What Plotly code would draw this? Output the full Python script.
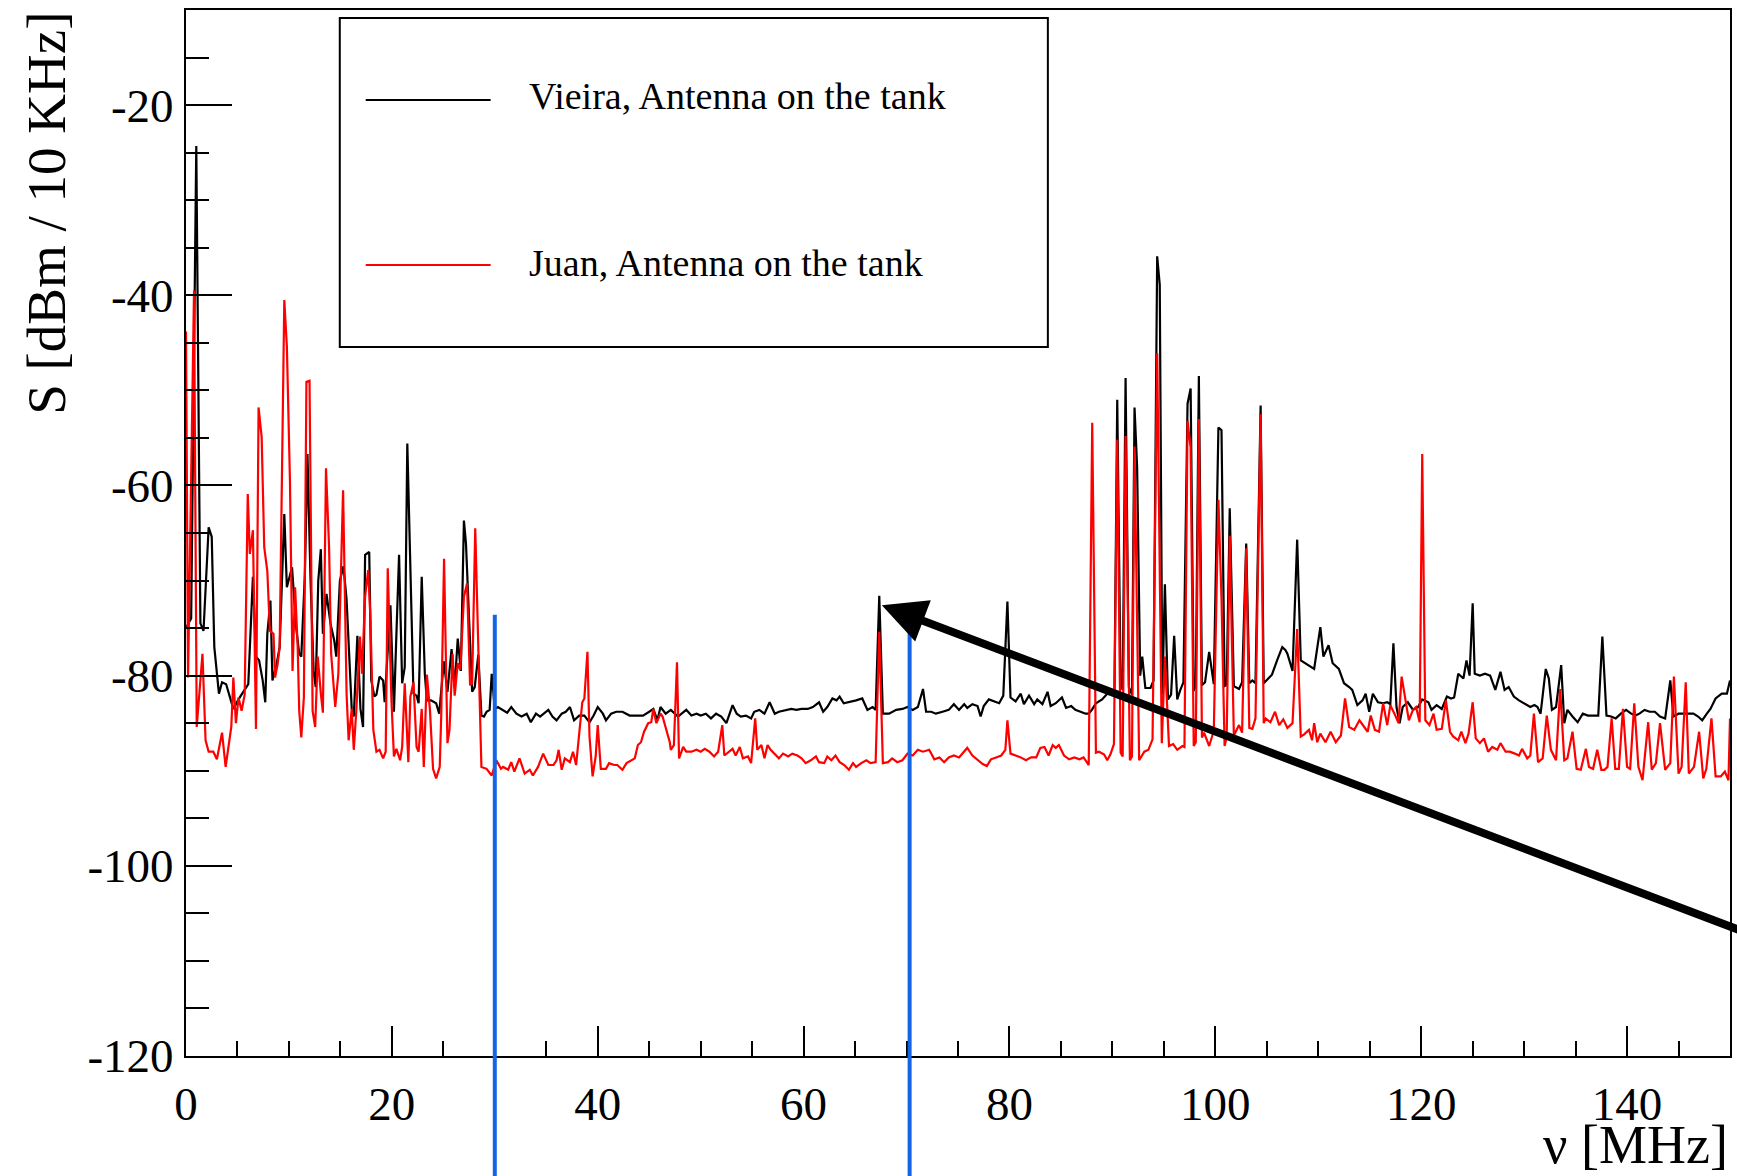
import plotly.graph_objects as go

# ---------------- data ----------------
# Vieira, Antenna on the tank (black)
vieira_freq = [
    0.0, 0.5, 1.0, 1.4, 1.7, 2.2, 2.5, 2.75, 3.2, 3.5,
    3.9, 4.3, 4.6, 5.1, 5.6, 6.05, 6.5, 6.8, 7.1, 7.45,
    7.7, 7.9, 8.2, 8.4, 8.8, 9.1, 9.55, 9.8, 10.3, 10.7,
    11.0, 11.2, 11.55, 11.8, 12.1, 12.4, 12.6, 12.85, 13.1, 13.3,
    13.65, 14.05, 14.4, 14.6, 14.95, 15.3, 15.6, 15.9, 16.1, 16.3,
    16.65, 16.95, 17.2, 17.4, 17.8, 18.0, 18.3, 18.5, 18.8, 19.15,
    19.3, 19.86, 20.2, 20.4, 20.7, 21.0, 21.25, 21.5, 21.8, 22.1,
    22.4, 22.6, 22.9, 23.2, 23.4, 23.8, 24.3, 24.6, 25.05, 25.4,
    25.8, 26.1, 26.4, 26.7, 27.0, 27.2, 27.6, 27.8, 28.05, 28.4,
    28.7, 28.95, 29.2, 29.5, 29.7, 30.0, 30.3, 30.8, 31.2, 31.6,
    32.1, 32.6, 33.1, 33.5, 34.0, 34.4, 34.7, 35.2, 35.6, 36.0,
    36.5, 36.9, 37.3, 37.7, 38.2, 38.7, 39.2, 39.6, 40.0, 40.5,
    40.8, 41.3, 41.8, 42.4, 43.1, 43.7, 44.4, 45.0, 45.4, 45.8,
    46.1, 46.6, 47.1, 47.8, 48.3, 48.6, 49.1, 49.6, 50.0, 50.5,
    51.0, 51.5, 52.0, 52.5, 53.1, 53.5, 53.9, 54.4, 54.9, 55.2,
    55.7, 56.2, 56.7, 57.2, 57.6, 58.3, 58.8, 59.3, 59.8, 60.4,
    60.9, 61.5, 61.9, 62.3, 62.8, 63.2, 63.5, 63.9, 64.4, 65.1,
    65.7, 66.2, 66.7, 67.0, 67.35, 67.7, 68.3, 69.0, 69.6, 70.1,
    70.6, 71.1, 71.6, 71.9, 72.4, 72.85, 73.5, 74.1, 74.6, 75.1,
    75.6, 75.9, 76.4, 76.9, 77.2, 77.5, 78.0, 78.5, 79.0, 79.4,
    79.8, 80.1, 80.6, 81.1, 81.4, 81.9, 82.4, 82.7, 83.2, 83.7,
    84.0, 84.5, 85.1, 85.5, 86.0, 86.4, 86.9, 87.4, 87.7, 88.0,
    88.4, 89.0, 89.5, 90.0, 90.2, 90.47, 90.8, 91.0, 91.28, 91.6,
    91.9, 92.15, 92.4, 92.7, 92.9, 93.2, 93.7, 94.0, 94.35, 94.6,
    94.85, 95.1, 95.4, 95.7, 96.0, 96.3, 96.6, 96.9, 97.3, 97.6,
    97.9, 98.1, 98.4, 98.7, 99.0, 99.4, 99.85, 100.3, 100.6, 100.9,
    101.1, 101.4, 101.8, 102.3, 102.6, 103.0, 103.3, 103.6, 103.9, 104.4,
    104.7, 104.9, 105.5, 106.0, 106.5, 106.8, 107.0, 107.5, 107.95, 108.3,
    108.6, 109.1, 109.6, 110.2, 110.5, 111.0, 111.4, 112.0, 112.5, 113.0,
    113.3, 113.8, 114.3, 114.6, 114.95, 115.3, 115.8, 116.3, 116.7, 117.0,
    117.3, 117.6, 117.9, 118.2, 118.7, 119.2, 119.7, 120.1, 120.7, 121.0,
    121.5, 122.0, 122.5, 122.9, 123.2, 123.6, 124.1, 124.4, 124.7, 125.0,
    125.2, 125.7, 126.2, 126.7, 127.2, 127.7, 128.1, 128.5, 129.0, 129.5,
    130.0, 130.6, 131.0, 131.3, 131.6, 132.1, 132.4, 132.7, 133.1, 133.6,
    133.9, 134.2, 134.7, 135.2, 135.7, 136.2, 136.7, 137.2, 137.6, 138.0,
    138.45, 138.9, 139.4, 139.9, 140.4, 140.8, 141.2, 141.7, 142.2, 142.7,
    143.2, 143.7, 144.2, 144.5, 145.0, 145.5, 146.0, 146.45, 146.9, 147.3,
    147.75, 148.1, 148.6, 149.2, 149.7, 150.0,
]
vieira_level = [
    -75.0, -74.0, -24.3, -74.5, -75.3, -64.4, -65.4, -77.0, -81.9, -80.7,
    -80.9, -82.3, -83.5, -82.5, -81.6, -80.9, -69.6, -78.0, -78.4, -80.5,
    -82.8, -75.6, -72.1, -80.5, -78.8, -77.0, -63.0, -70.7, -68.6, -74.9,
    -77.7, -78.0, -69.3, -56.7, -70.0, -79.5, -81.2, -70.0, -66.7, -75.6,
    -71.4, -74.6, -76.3, -78.0, -70.0, -68.5, -72.0, -80.0, -83.5, -84.3,
    -75.8, -83.5, -85.4, -67.3, -67.0, -80.5, -82.2, -82.0, -80.1, -80.5,
    -82.8, -72.6, -83.8, -77.0, -67.3, -80.8, -79.1, -55.6, -70.0, -81.9,
    -82.1, -82.9, -69.6, -79.8, -82.6, -82.6, -82.9, -84.0, -78.5, -81.7,
    -77.2, -81.2, -76.1, -79.5, -63.7, -66.1, -76.6, -81.7, -81.2, -77.8,
    -84.2, -84.3, -83.8, -83.6, -79.8, -83.5, -83.3, -83.6, -83.9, -83.3,
    -84.0, -84.3, -84.0, -84.9, -84.0, -84.3, -84.0, -83.6, -84.3, -84.7,
    -84.0, -83.8, -83.3, -84.7, -84.2, -84.2, -84.9, -84.2, -83.3, -84.0,
    -84.7, -84.0, -83.8, -83.8, -84.2, -84.2, -84.2, -83.8, -83.5, -84.7,
    -83.3, -84.0, -83.6, -84.3, -83.8, -83.6, -84.2, -84.0, -84.2, -84.0,
    -84.5, -84.0, -84.3, -85.0, -83.1, -84.0, -84.3, -84.2, -84.5, -83.8,
    -83.6, -84.0, -82.8, -84.0, -83.8, -83.6, -83.5, -83.6, -83.5, -83.5,
    -83.3, -82.8, -83.8, -83.3, -82.4, -82.6, -82.2, -82.9, -82.8, -82.6,
    -82.4, -83.6, -83.3, -83.6, -71.6, -84.0, -84.0, -83.6, -83.5, -83.3,
    -83.6, -83.3, -81.4, -83.8, -83.8, -84.0, -83.8, -83.6, -83.0, -83.6,
    -83.0, -83.4, -83.0, -83.2, -84.3, -83.2, -82.5, -82.7, -82.9, -82.1,
    -72.2, -82.3, -82.7, -81.9, -83.0, -82.1, -83.0, -82.5, -83.0, -81.7,
    -83.2, -82.9, -82.3, -83.4, -83.2, -83.6, -83.8, -84.0, -84.0, -83.6,
    -82.9, -82.5, -81.9, -81.7, -81.5, -51.0, -81.0, -81.5, -48.7, -81.2,
    -82.0, -51.8, -58.0, -80.0, -78.0, -81.3, -81.3, -80.5, -35.9, -38.9,
    -82.0, -70.4, -82.5, -82.0, -75.8, -82.5, -81.5, -80.7, -51.4, -49.8,
    -81.6, -81.0, -48.5, -81.0, -80.7, -77.5, -80.9, -53.9, -54.2, -81.1,
    -81.0, -62.4, -81.1, -81.4, -80.7, -66.1, -80.8, -80.5, -80.8, -51.6,
    -80.8, -80.6, -79.9, -78.4, -77.0, -77.3, -77.7, -79.5, -65.7, -78.4,
    -78.6, -78.9, -79.3, -74.9, -78.0, -76.8, -78.7, -79.3, -80.8, -81.2,
    -81.5, -83.1, -82.6, -81.9, -83.8, -81.9, -82.8, -82.9, -82.8, -83.0,
    -76.6, -83.3, -85.0, -83.3, -82.8, -83.6, -83.3, -82.5, -82.8, -83.6,
    -83.1, -83.5, -82.2, -82.4, -82.3, -79.8, -80.3, -78.4, -80.0, -72.4,
    -79.8, -80.0, -79.8, -80.0, -81.5, -79.6, -81.5, -81.2, -82.2, -82.6,
    -82.9, -83.3, -83.1, -83.3, -84.0, -79.3, -80.3, -83.6, -83.3, -78.9,
    -85.0, -83.6, -84.3, -84.9, -84.0, -84.2, -84.2, -84.2, -75.9, -84.2,
    -84.3, -84.5, -84.0, -83.6, -84.0, -84.2, -84.0, -83.6, -83.8, -83.8,
    -84.3, -84.5, -80.5, -84.3, -84.0, -84.0, -84.0, -84.0, -84.3, -84.7,
    -84.0, -83.5, -82.4, -81.9, -81.9, -80.5,
]

# Juan, Antenna on the tank (red)
juan_freq = [
    0.0, 0.2, 0.78, 1.04, 1.6, 1.9, 2.2, 2.65, 3.0, 3.5,
    3.85, 4.1, 4.4, 4.6, 4.85, 5.1, 5.4, 5.7, 6.0, 6.2,
    6.5, 6.8, 7.05, 7.35, 7.6, 7.9, 8.15, 8.5, 8.65, 8.9,
    9.1, 9.55, 9.8, 10.1, 10.35, 10.6, 10.85, 11.0, 11.2, 11.45,
    11.7, 12.0, 12.3, 12.55, 12.8, 13.1, 13.3, 13.6, 13.9, 14.1,
    14.5, 14.8, 15.26, 15.6, 15.8, 16.1, 16.3, 16.55, 16.9, 17.1,
    17.4, 17.7, 17.9, 18.2, 18.5, 18.8, 19.15, 19.4, 19.6, 19.96,
    20.2, 20.44, 20.8, 21.0, 21.25, 21.6, 21.8, 22.1, 22.4, 22.6,
    22.9, 23.1, 23.4, 23.7, 24.0, 24.3, 24.65, 24.8, 25.07, 25.4,
    25.6, 25.9, 26.1, 26.4, 26.65, 27.0, 27.3, 27.6, 27.8, 28.1,
    28.4, 28.7, 29.2, 29.7, 30.15, 30.6, 30.8, 31.3, 31.6, 31.9,
    32.4, 32.9, 33.4, 33.7, 34.2, 34.7, 35.2, 35.7, 36.0, 36.2,
    36.5, 36.8, 37.3, 37.6, 37.9, 38.2, 38.5, 38.7, 39.0, 39.2,
    39.5, 39.8, 40.0, 40.3, 40.8, 41.1, 41.6, 41.9, 42.4, 42.8,
    43.3, 43.6, 43.9, 44.2, 44.5, 44.9, 45.2, 45.4, 45.7, 46.1,
    46.3, 46.7, 47.0, 47.1, 47.4, 47.7, 47.9, 48.3, 48.6, 49.1,
    49.6, 50.0, 50.4, 50.85, 51.3, 51.7, 52.1, 52.3, 52.8, 53.1,
    53.4, 53.8, 54.1, 54.6, 54.9, 55.3, 55.5, 55.9, 56.2, 56.5,
    56.8, 57.3, 57.6, 58.0, 58.5, 58.9, 59.4, 59.8, 60.2, 60.7,
    61.2, 61.5, 62.0, 62.3, 62.7, 63.1, 63.5, 63.95, 64.4, 64.8,
    65.1, 65.6, 66.1, 66.5, 67.0, 67.35, 67.7, 68.2, 68.6, 69.1,
    69.6, 70.1, 70.6, 71.1, 71.6, 72.2, 72.7, 73.2, 73.65, 74.1,
    74.6, 75.1, 75.6, 75.9, 76.4, 76.9, 77.4, 77.8, 78.2, 78.7,
    79.2, 79.6, 79.8, 80.1, 80.6, 81.1, 81.6, 82.1, 82.6, 83.0,
    83.4, 83.8, 84.2, 84.5, 84.8, 85.3, 85.8, 86.3, 86.8, 87.2,
    87.7, 88.04, 88.4, 88.7, 89.2, 89.5, 89.8, 90.15, 90.47, 90.8,
    91.0, 91.28, 91.7, 91.9, 92.15, 92.6, 93.1, 93.5, 93.9, 94.35,
    94.8, 95.1, 95.5, 95.9, 96.3, 96.8, 97.0, 97.3, 97.6, 97.9,
    98.1, 98.4, 98.7, 98.9, 99.4, 99.85, 100.3, 100.6, 100.9, 101.1,
    101.4, 101.8, 102.3, 102.6, 103.0, 103.3, 103.6, 103.9, 104.4, 104.7,
    104.9, 105.35, 105.8, 106.2, 106.6, 107.0, 107.5, 107.95, 108.3, 108.6,
    109.1, 109.4, 109.6, 109.9, 110.2, 110.7, 111.2, 111.7, 112.2, 112.6,
    113.0, 113.5, 114.0, 114.5, 114.8, 115.1, 115.5, 115.9, 116.3, 116.7,
    117.0, 117.4, 117.8, 118.1, 118.5, 118.8, 119.2, 119.5, 119.85, 120.1,
    120.4, 120.8, 121.2, 121.5, 122.0, 122.4, 122.8, 123.1, 123.6, 123.9,
    124.3, 124.6, 125.0, 125.3, 125.7, 126.1, 126.5, 126.9, 127.4, 127.7,
    128.2, 128.6, 129.1, 129.5, 129.8, 130.3, 130.6, 130.95, 131.35, 131.8,
    132.2, 132.6, 133.1, 133.5, 133.9, 134.2, 134.7, 135.1, 135.5, 136.0,
    136.3, 136.7, 137.1, 137.5, 137.8, 138.1, 138.5, 138.85, 139.2, 139.6,
    140.0, 140.3, 140.7, 141.1, 141.5, 142.05, 142.4, 142.8, 143.2, 143.7,
    144.2, 144.55, 145.0, 145.3, 145.7, 146.0, 146.5, 147.0, 147.4, 147.7,
    148.2, 148.6, 149.1, 149.5, 149.85, 150.0,
]
juan_level = [
    -43.8, -80.2, -39.5, -85.4, -77.7, -86.8, -88.0, -88.0, -88.8, -86.0,
    -89.6, -87.5, -85.4, -80.2, -85.0, -82.3, -83.7, -82.0, -60.9, -67.2,
    -64.7, -85.6, -51.8, -54.9, -66.5, -69.0, -75.3, -75.6, -80.2, -78.8,
    -77.0, -40.5, -45.4, -59.5, -79.5, -70.7, -77.0, -83.7, -86.5, -82.3,
    -49.1, -49.0, -83.7, -85.4, -78.0, -81.9, -83.9, -58.2, -66.5, -77.7,
    -83.3, -79.8, -60.5, -81.9, -86.8, -83.5, -87.8, -83.6, -75.9, -79.8,
    -71.7, -68.9, -73.5, -85.7, -88.0, -87.8, -88.7, -88.0, -68.7, -82.6,
    -88.5, -87.7, -88.9, -87.5, -80.8, -89.1, -82.2, -80.7, -87.5, -88.0,
    -83.5, -89.6, -79.9, -83.6, -89.8, -90.8, -89.6, -84.0, -67.7, -87.1,
    -85.7, -77.7, -82.1, -78.7, -79.4, -71.7, -70.3, -81.0, -80.8, -64.5,
    -77.0, -89.6, -89.8, -90.5, -88.9, -89.8, -89.6, -89.9, -89.1, -90.1,
    -88.7, -90.3, -89.9, -90.5, -89.6, -88.2, -89.4, -89.4, -88.9, -87.8,
    -89.9, -88.7, -89.1, -88.0, -89.4, -86.4, -82.8, -82.4, -77.5, -86.4,
    -90.6, -88.5, -85.2, -89.8, -89.8, -89.2, -89.4, -89.4, -89.9, -89.2,
    -88.9, -88.7, -87.3, -87.0, -85.9, -85.0, -84.9, -83.5, -85.0, -84.0,
    -84.3, -85.7, -87.0, -87.8, -87.3, -78.6, -88.7, -87.5, -88.0, -88.0,
    -87.8, -88.0, -87.7, -88.0, -88.5, -88.0, -85.2, -88.4, -88.0, -87.7,
    -88.4, -87.5, -88.7, -88.5, -89.2, -84.5, -87.8, -87.3, -88.7, -87.3,
    -87.8, -88.4, -88.7, -88.2, -88.5, -88.2, -88.4, -88.7, -89.2, -88.9,
    -88.5, -89.1, -89.2, -88.5, -88.9, -88.4, -89.1, -89.4, -89.9, -89.2,
    -89.6, -89.2, -88.9, -89.2, -89.1, -75.4, -89.2, -89.1, -88.7, -89.1,
    -88.9, -88.2, -88.4, -87.8, -88.0, -87.8, -88.8, -88.6, -89.1, -88.6,
    -88.4, -88.6, -88.0, -87.6, -88.4, -88.9, -89.3, -89.5, -88.8, -88.6,
    -88.4, -87.8, -84.7, -88.2, -88.4, -88.6, -88.9, -88.6, -88.6, -87.6,
    -87.5, -88.4, -87.3, -87.6, -87.3, -88.4, -88.8, -88.6, -88.8, -88.6,
    -89.4, -53.4, -88.1, -88.0, -88.3, -88.9, -88.3, -87.2, -55.2, -88.1,
    -88.5, -54.8, -88.9, -88.5, -55.9, -88.9, -88.0, -87.8, -86.7, -46.1,
    -87.1, -78.0, -87.4, -87.2, -87.8, -87.4, -87.5, -53.2, -56.0, -87.4,
    -87.0, -53.0, -86.5, -86.0, -87.4, -85.8, -61.5, -72.0, -87.4, -86.5,
    -65.3, -86.3, -85.2, -86.0, -66.6, -85.5, -85.6, -84.5, -52.5, -85.0,
    -84.5, -84.9, -83.8, -85.2, -84.6, -85.5, -85.0, -75.1, -86.4, -86.2,
    -85.7, -86.8, -85.0, -87.0, -86.1, -87.0, -85.9, -87.0, -86.3, -82.4,
    -85.4, -85.7, -84.7, -85.4, -85.9, -84.2, -85.7, -85.9, -82.9, -85.2,
    -83.1, -84.0, -85.0, -80.1, -82.9, -84.7, -83.6, -83.3, -84.9, -56.7,
    -84.7, -85.2, -84.0, -85.7, -85.6, -82.6, -85.9, -86.4, -86.8, -85.9,
    -87.1, -86.1, -82.8, -86.6, -87.1, -86.6, -88.0, -87.5, -87.8, -87.1,
    -88.0, -88.0, -88.2, -88.4, -87.7, -88.7, -88.4, -84.0, -89.1, -88.7,
    -84.2, -87.8, -88.9, -81.4, -88.9, -88.7, -85.9, -89.8, -89.9, -87.7,
    -89.6, -89.8, -87.8, -89.9, -89.9, -89.6, -84.5, -89.8, -89.8, -83.5,
    -89.6, -89.8, -82.9, -89.6, -91.0, -84.9, -89.9, -89.2, -85.0, -89.9,
    -89.2, -80.1, -90.3, -89.6, -80.7, -90.3, -89.6, -85.9, -90.8, -89.8,
    -84.5, -90.6, -90.6, -90.1, -91.0, -84.5,
]

series_names = ["Vieira, Antenna on the tank", "Juan, Antenna on the tank"]
series_colors = ["#000000", "#ff0000"]

x_range = [0, 150]
y_range = [-120, -10]
x_tick_values = [0, 20, 40, 60, 80, 100, 120, 140]
x_tick_labels = ["0", "20", "40", "60", "80", "100", "120", "140"]
y_tick_values = [-120, -100, -80, -60, -40, -20]
y_tick_labels = ["-120", "-100", "-80", "-60", "-40", "-20"]

# hand-drawn band markers and arrow (data coordinates)
band_edges_mhz = [30.0, 70.3]
band_marker_top = -73.6
arrow_tip = (67.6, -72.6)
arrow_tail = (152.0, -107.2)

FONT = "Liberation Serif"

fig = go.Figure()
fig.add_trace(go.Scatter(x=vieira_freq, y=vieira_level, mode="lines",
                         name=series_names[0],
                         line=dict(color=series_colors[0], width=2.2)))
fig.add_trace(go.Scatter(x=juan_freq, y=juan_level, mode="lines",
                         name=series_names[1],
                         line=dict(color=series_colors[1], width=2.2)))

shapes = []
top_frac = (band_marker_top - y_range[0]) / (y_range[1] - y_range[0])
for edge in band_edges_mhz:
    shapes.append(dict(type="line", xref="x", yref="paper",
                       x0=edge, x1=edge, y0=-0.2, y1=top_frac,
                       line=dict(color="#1464e6", width=4), layer="above"))

# legend box drawn by hand (ROOT style)
shapes.append(dict(type="rect", xref="paper", yref="paper",
                   x0=0.0996, x1=0.5582, y0=0.6778, y1=0.9924,
                   line=dict(color="black", width=2), fillcolor="white",
                   layer="above"))
legend_rows = [0.914, 0.7562]
for yy, col in zip(legend_rows, series_colors):
    shapes.append(dict(type="line", xref="paper", yref="paper",
                       x0=0.1164, x1=0.1973, y0=yy, y1=yy,
                       line=dict(color=col, width=2), layer="above"))

annotations = []
for yy, name in zip([0.9178, 0.7581], series_names):
    annotations.append(dict(xref="paper", yref="paper", x=0.2206, y=yy,
                            xanchor="left", yanchor="middle", text=name,
                            showarrow=False,
                            font=dict(family=FONT, size=38, color="black")))

annotations.append(dict(xref="paper", yref="paper", x=0.9994, y=-0.1147,
                        xanchor="right", yanchor="bottom", text="ν [MHz]",
                        showarrow=False, borderpad=0,
                        font=dict(family=FONT, size=54, color="black")))
annotations.append(dict(xref="paper", yref="paper", x=-0.0905, y=0.999,
                        xanchor="center", yanchor="top",
                        text="S [dBm / 10 KHz]", textangle=-90,
                        showarrow=False, borderpad=0,
                        font=dict(family=FONT, size=55, color="black")))
annotations.append(dict(xref="x", yref="y", x=arrow_tip[0], y=arrow_tip[1],
                        axref="x", ayref="y", ax=arrow_tail[0], ay=arrow_tail[1],
                        text="", showarrow=True, arrowhead=2, arrowsize=1.1,
                        arrowwidth=8, arrowcolor="black"))

axis_common = dict(showline=True, linecolor="black", linewidth=2, mirror=True,
                   showgrid=False, zeroline=False, ticks="inside",
                   tickcolor="black", tickwidth=2,
                   tickfont=dict(family=FONT, size=47, color="black"))

fig.update_layout(
    width=1737, height=1176,
    margin=dict(l=186, r=5, t=10, b=120),
    paper_bgcolor="white", plot_bgcolor="white",
    showlegend=False,
    shapes=shapes, annotations=annotations,
    xaxis=dict(range=x_range, tickmode="array", tickvals=x_tick_values,
               ticktext=x_tick_labels, ticklen=30,
               minor=dict(dtick=5, tick0=0, ticks="inside", ticklen=15,
                          tickwidth=2, tickcolor="black", showgrid=False),
               ticklabelstandoff=6, **axis_common),
    yaxis=dict(range=y_range, tickmode="array", tickvals=y_tick_values,
               ticktext=y_tick_labels, ticklen=46,
               minor=dict(dtick=5, tick0=-120, ticks="inside", ticklen=23,
                          tickwidth=2, tickcolor="black", showgrid=False),
               ticklabelstandoff=1, **axis_common),
)

assert len(vieira_freq) == len(vieira_level)
assert len(juan_freq) == len(juan_level)

fig.write_html("out.html")
